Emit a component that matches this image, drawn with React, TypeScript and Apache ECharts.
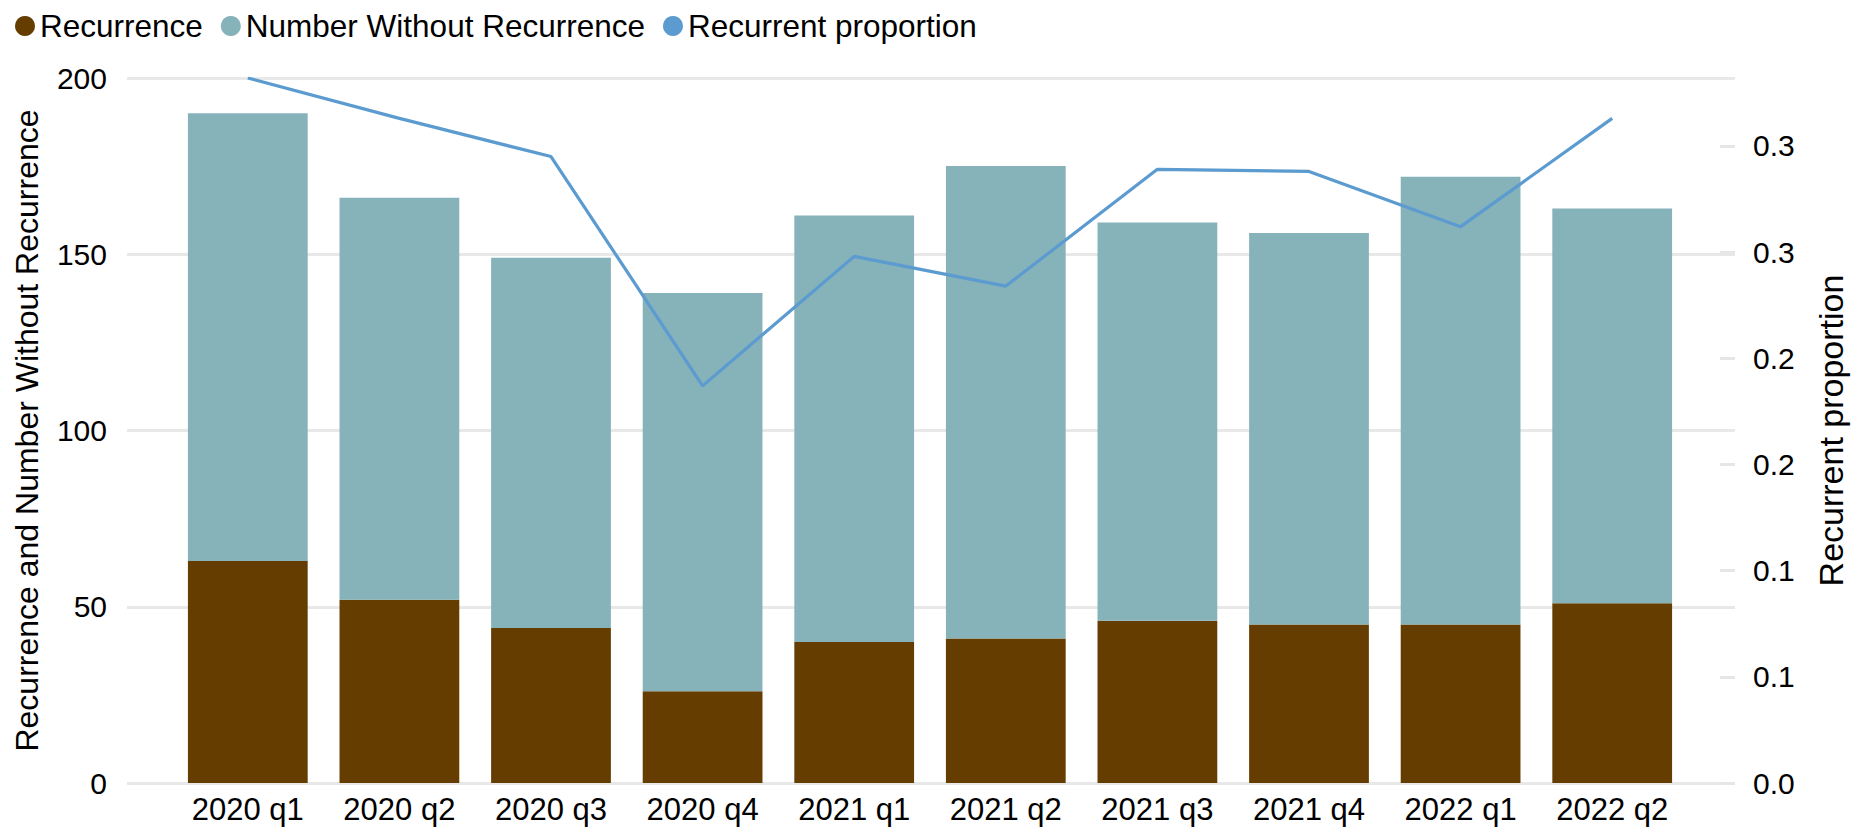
import React, { useEffect, useRef } from "react";
import * as echarts from "echarts";

const categories = ["2020 q1", "2020 q2", "2020 q3", "2020 q4", "2021 q1", "2021 q2", "2021 q3", "2021 q4", "2022 q1", "2022 q2"];
const recurrence = [63, 52, 44, 26, 40, 41, 46, 45, 45, 51];
const withoutRecurrence = [127, 114, 105, 113, 121, 134, 113, 111, 127, 112];
const recurrentProportion = [0.332, 0.313, 0.295, 0.187, 0.248, 0.234, 0.289, 0.288, 0.262, 0.313];
const leftTicks = { min: 0, max: 200, interval: 50 };
const rightTicks = { min: 0, max: 0.332, interval: 0.05 };

const FONT = "'Liberation Sans', Arial, sans-serif";
const FS = 30;

export default function App() {
  const ref = useRef<HTMLDivElement>(null);
  useEffect(() => {
    document.body.style.margin = "0";
    const chart = echarts.init(ref.current!, null, { renderer: "svg" });
    const grid0 = { left: 172, right: 171, top: 78, bottom: 46 };
    const grid1 = { left: 127, right: 124, top: 78, bottom: 46 };
    chart.setOption({
      animation: false,
      backgroundColor: "#ffffff",
      textStyle: { fontFamily: FONT },
      legend: {
        left: 10,
        top: 5,
        icon: "circle",
        itemWidth: 20,
        itemHeight: 20,
        itemGap: 18,
        textStyle: { fontFamily: FONT, fontSize: 31.5, color: "#000" },
        data: ["Recurrence", "Number Without Recurrence", "Recurrent proportion"],
      },
      grid: [grid0, grid1],
      xAxis: [
        {
          type: "category",
          gridIndex: 0,
          data: categories,
          axisLine: { show: false },
          axisTick: { show: false },
          axisLabel: { fontFamily: FONT, fontSize: 31, color: "#000", margin: 11 },
        },
        { type: "value", gridIndex: 1, show: false, min: 0, max: 1 },
      ],
      yAxis: [
        { type: "value", gridIndex: 0, show: false, ...leftTicks, splitLine: { show: false } },
        { type: "value", gridIndex: 0, show: false, ...rightTicks, splitLine: { show: false } },
        {
          type: "value",
          gridIndex: 1,
          position: "left",
          ...leftTicks,
          axisLine: { show: false },
          axisTick: { show: false },
          splitLine: { show: true, lineStyle: { color: "#e8e8e8", width: 3 } },
          axisLabel: { fontFamily: FONT, fontSize: FS, color: "#000", margin: 20 },
          name: "Recurrence and Number Without Recurrence",
          nameLocation: "middle",
          nameRotate: 90,
          nameGap: 84,
          nameTextStyle: { fontFamily: FONT, fontSize: 32, color: "#000" },
        },
        {
          type: "value",
          gridIndex: 1,
          position: "right",
          ...rightTicks,
          axisLine: { show: false },
          axisTick: { show: true, inside: true, length: 15, lineStyle: { color: "#e6e6e6", width: 3 } },
          splitLine: { show: false },
          axisLabel: {
            fontFamily: FONT,
            fontSize: FS,
            color: "#000",
            margin: 18,
            showMaxLabel: false,
            formatter: (v: number) => (Math.round(v * 10 + 1e-9) / 10).toFixed(1),
          },
          name: "Recurrent proportion",
          nameLocation: "middle",
          nameRotate: 90,
          nameGap: 79,
          nameTextStyle: { fontFamily: FONT, fontSize: 34, color: "#000" },
        },
      ],
      series: [
        {
          name: "Recurrence",
          type: "bar",
          stack: "total",
          xAxisIndex: 0,
          yAxisIndex: 0,
          barWidth: "79%",
          itemStyle: { color: "#663d00" },
          data: recurrence,
        },
        {
          name: "Number Without Recurrence",
          type: "bar",
          stack: "total",
          xAxisIndex: 0,
          yAxisIndex: 0,
          barWidth: "79%",
          itemStyle: { color: "#86b2ba" },
          data: withoutRecurrence,
        },
        {
          name: "Recurrent proportion",
          type: "line",
          xAxisIndex: 0,
          yAxisIndex: 1,
          showSymbol: false,
          symbol: "circle",
          lineStyle: { color: "#5b9bd0", width: 3.2 },
          itemStyle: { color: "#5b9bd0" },
          data: recurrentProportion,
        },
      ],
    });
    return () => chart.dispose();
  }, []);
  return <div ref={ref} style={{ position: "absolute", left: 0, top: 0, width: 1859, height: 829 }} />;
}
